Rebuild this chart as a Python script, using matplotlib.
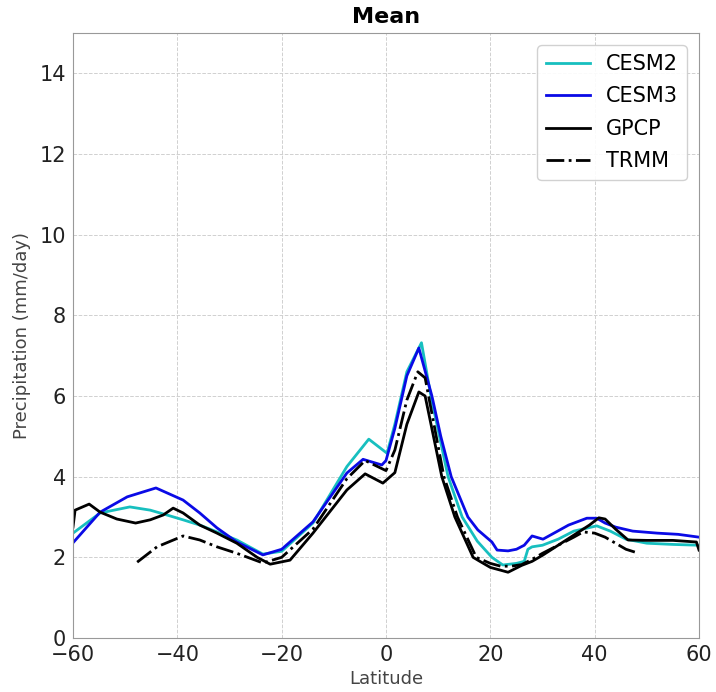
import matplotlib
matplotlib.use('Agg')
import matplotlib.pyplot as plt

# zonal mean precipitation (mm/day)
lat_cesm3 = [-60, -54.8, -49.6, -44.1, -38.9, -35.7, -32.4, -28.6, -23.6, -20, -14, -7.5, -4.4, -0.8, 0,
             1.7, 4, 6.3, 8.8, 10.5, 12.5, 15.7, 17.6, 20.3, 21.3, 23.4, 25, 26.5, 28, 30.1, 35, 38.5, 40.4,
             42, 44, 47.3, 52, 56, 60]
cesm3 = [2.36, 3.12, 3.5, 3.72, 3.42, 3.1, 2.73, 2.38, 2.06, 2.2, 2.88, 4.09, 4.43, 4.29, 4.4,
         5.2, 6.5, 7.19, 6.0, 5.0, 4.0, 3.0, 2.68, 2.38, 2.18, 2.16, 2.2, 2.3, 2.53, 2.45, 2.8, 2.97, 2.97,
         2.85, 2.75, 2.65, 2.6, 2.57, 2.5]

lat_cesm2 = [-60, -54.8, -49.1, -45.2, -42, -38.9, -35.7, -32.4, -28.6, -23.6, -20, -14, -7.5, -3.3, 0.2,
             1.7, 4, 6.8, 8.6, 11.9, 14.6, 17.5, 20.3, 22.4, 25, 26.5, 27.2, 28, 30, 33, 36, 40.4, 43, 46,
             50, 55, 60]
cesm2 = [2.6, 3.1, 3.25, 3.17, 3.05, 2.93, 2.8, 2.63, 2.43, 2.08, 2.15, 2.85, 4.25, 4.93, 4.58,
         5.3, 6.6, 7.32, 6.0, 4.0, 3.0, 2.4, 2.0, 1.81, 1.85, 1.9, 2.2, 2.26, 2.3, 2.45, 2.65, 2.78, 2.65, 2.45,
         2.35, 2.32, 2.3]

lat_gpcp = [-60, -59.6, -58.7, -56.9, -54.8, -51.6, -48, -45.2, -42.7, -40.8, -38.9, -35.7, -32.4, -28.6,
            -24.7, -22.2, -18.4, -14, -7.5, -4, -0.6, 1.7, 4, 6.3, 7.5, 10.7, 13.2, 16.7, 18, 20, 22, 23.4,
            26, 28, 30, 33, 36, 39, 40.8, 42, 44, 46.4, 50, 55, 59.5, 60]
gpcp = [2.75, 3.17, 3.22, 3.32, 3.12, 2.95, 2.85, 2.93, 3.05, 3.22, 3.1, 2.8, 2.6, 2.35,
        2.0, 1.83, 1.93, 2.6, 3.67, 4.07, 3.84, 4.1, 5.3, 6.1, 6.0, 4.0, 3.0, 2.0, 1.9, 1.75, 1.68, 1.63,
        1.8, 1.9, 2.05, 2.3, 2.55, 2.8, 2.98, 2.95, 2.7, 2.43, 2.42, 2.42, 2.38, 2.18]

lat_trmm = [-47.7, -43.9, -38.9, -35.7, -32.4, -28.6, -23.6, -20, -14, -7.5, -4, 0, 1.7, 4, 6.1, 7.5,
            11.1, 13.7, 17.3, 20, 22, 24, 26, 28, 30, 33, 36, 37.8, 40, 42, 44, 46, 47.7]
trmm = [1.88, 2.26, 2.53, 2.43, 2.26, 2.1, 1.86, 2.0, 2.7, 3.95, 4.4, 4.15, 4.66, 5.9, 6.6, 6.45,
        4.0, 3.0, 2.0, 1.85, 1.78, 1.78, 1.82, 1.95, 2.1, 2.3, 2.5, 2.63, 2.6, 2.5, 2.35, 2.2, 2.13]

xticks = [-60, -40, -20, 0, 20, 40, 60]
yticks = [0, 2, 4, 6, 8, 10, 12, 14]

fig = plt.figure(figsize=(7.16, 6.92), dpi=100)
ax = fig.add_axes([73 / 716, 1 - 638 / 692, 626 / 716, 605 / 692])

ax.plot(lat_cesm2, cesm2, color='#17bfbf', lw=2, label='CESM2')
ax.plot(lat_cesm3, cesm3, color='#0a0ae6', lw=2, label='CESM3')
ax.plot(lat_gpcp, gpcp, color='black', lw=2, label='GPCP')
ax.plot(lat_trmm, trmm, color='black', lw=2, linestyle='-.', label='TRMM')

ax.set_xlim(-60, 60)
ax.set_ylim(0, 15)
ax.set_xticks(xticks)
ax.set_yticks(yticks)
ax.tick_params(labelsize=15, length=0, pad=5, labelcolor='#222222')
ax.set_xlabel('Latitude', fontsize=13, color='#444444', labelpad=4)
ax.set_ylabel('Precipitation (mm/day)', fontsize=13, color='#444444', labelpad=6)
ax.set_title('Mean', fontsize=16, fontweight='bold', pad=7)
ax.grid(True, linestyle='--', color='#d0d0d0', lw=0.7)
for s in ax.spines.values():
    s.set_color('#999999')

ax.legend(loc='upper right', fontsize=15, handlelength=2.1, labelspacing=0.6,
          framealpha=0.9, borderaxespad=0.6)

fig.savefig('out.png', dpi=100)
